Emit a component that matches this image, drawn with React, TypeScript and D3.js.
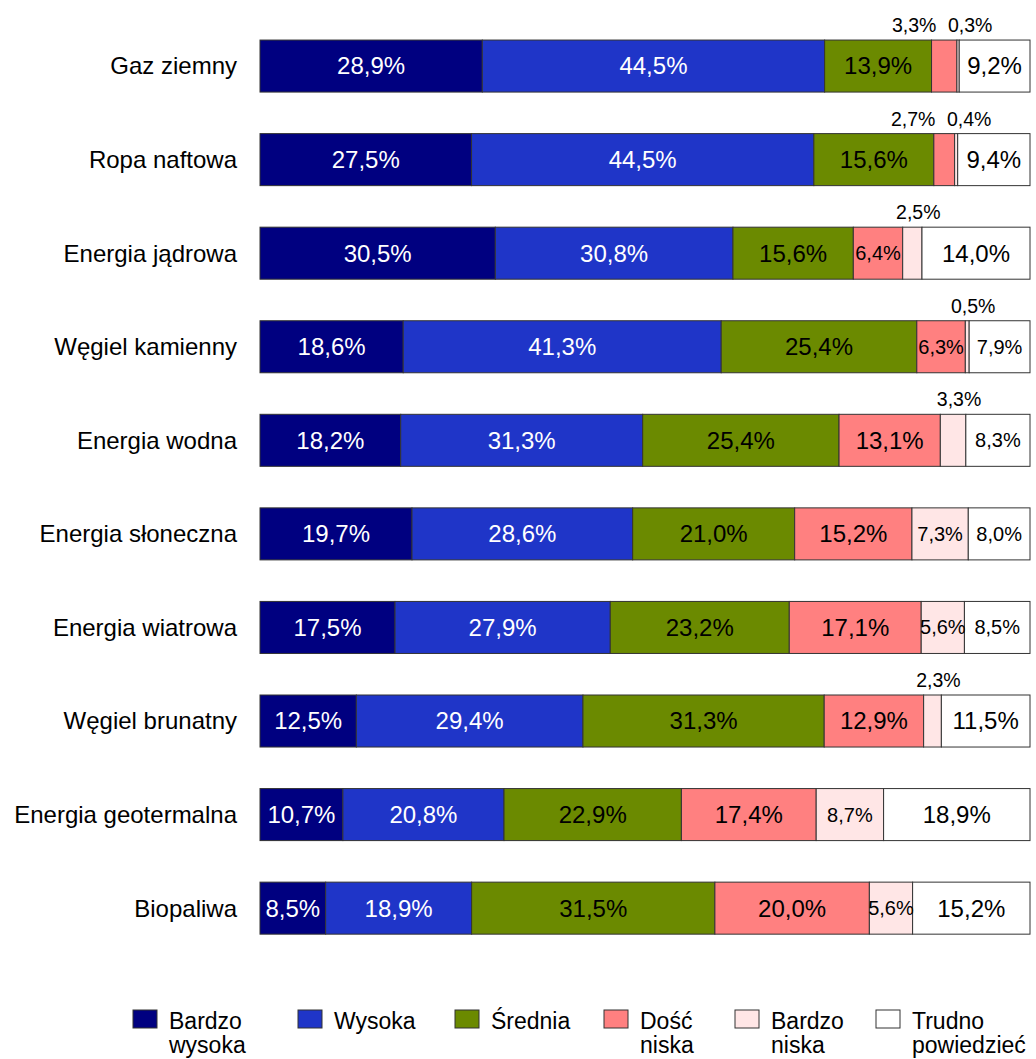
import React from "react";
import * as d3 from "d3";

const categories = [
  "Gaz ziemny",
  "Ropa naftowa",
  "Energia jądrowa",
  "Węgiel kamienny",
  "Energia wodna",
  "Energia słoneczna",
  "Energia wiatrowa",
  "Węgiel brunatny",
  "Energia geotermalna",
  "Biopaliwa",
];

const seriesNames = [
  ["Bardzo", "wysoka"],
  ["Wysoka"],
  ["Średnia"],
  ["Dość", "niska"],
  ["Bardzo", "niska"],
  ["Trudno", "powiedzieć"],
];

const bardzoWysoka = [28.9, 27.5, 30.5, 18.6, 18.2, 19.7, 17.5, 12.5, 10.7, 8.5];
const wysoka = [44.5, 44.5, 30.8, 41.3, 31.3, 28.6, 27.9, 29.4, 20.8, 18.9];
const srednia = [13.9, 15.6, 15.6, 25.4, 25.4, 21.0, 23.2, 31.3, 22.9, 31.5];
const doscNiska = [3.3, 2.7, 6.4, 6.3, 13.1, 15.2, 17.1, 12.9, 17.4, 20.0];
const bardzoNiska = [0.3, 0.4, 2.5, 0.5, 3.3, 7.3, 5.6, 2.3, 8.7, 5.6];
const trudno = [9.2, 9.4, 14.0, 7.9, 8.3, 8.0, 8.5, 11.5, 18.9, 15.2];

const seriesValues = [bardzoWysoka, wysoka, srednia, doscNiska, bardzoNiska, trudno];

const colors = ["#000080", "#1F35C8", "#6B8A00", "#FF8080", "#FFE6E6", "#FFFFFF"];
const textColors = ["#FFFFFF", "#FFFFFF", "#000000", "#000000", "#000000", "#000000"];

const W = 1036;
const H = 1059;
const FONT = "'Liberation Sans', Arial, Helvetica, sans-serif";
const legendX = [133, 298, 455, 604, 735, 876];

const fmt = (v: number) => v.toFixed(1).replace(".", ",") + "%";

export default function App() {
  const keys = seriesValues.map((_, i) => String(i));
  const rows = categories.map((c, r) => {
    const o: any = { cat: c };
    seriesValues.forEach((s, i) => (o[String(i)] = s[r]));
    return o;
  });
  const stacked = d3.stack<any>().keys(keys).offset(d3.stackOffsetExpand)(rows);

  const x = d3.scaleLinear().domain([0, 1]).range([260, 1030]);
  const y = d3
    .scaleBand<string>()
    .domain(categories)
    .range([-1.5, 975.7])
    .padding(0.444);
  const bw = y.bandwidth();

  const segs: any[] = [];
  const inside: any[] = [];
  const outside: any[] = [];
  stacked.forEach((layer, si) => {
    layer.forEach((d, ri) => {
      const cat = categories[ri];
      const v = seriesValues[si][ri];
      const x0 = x(d[0]);
      const x1 = x(d[1]);
      const yTop = y(cat)!;
      segs.push({ key: `${si}-${ri}`, x0, x1, yTop, si });
      const cx = (x0 + x1) / 2;
      if (v < 4) {
        outside.push({ ri, si, cx, yTop, text: fmt(v) });
      } else {
        const small = v < 9 && si > 0;
        inside.push({
          key: `${si}-${ri}`,
          cx,
          cy: yTop + bw / 2,
          text: fmt(v),
          size: small ? 20 : 24,
          color: textColors[si],
        });
      }
    });
  });

  // place labels of tiny segments above the bar, spreading pairs apart
  const outsidePlaced: any[] = [];
  d3.groups(outside, (d: any) => d.ri).forEach(([, group]) => {
    if (group.length === 1) {
      const g = group[0];
      outsidePlaced.push({ ...g, px: g.cx + 6 });
    } else {
      const mid = d3.mean(group, (g: any) => g.cx)! - 9;
      const n = group.length;
      group.forEach((g: any, i: number) => {
        outsidePlaced.push({ ...g, px: mid + (i - (n - 1) / 2) * 56 });
      });
    }
  });

  return (
    <svg
      width={W}
      height={H}
      style={{ position: "absolute", left: 0, top: 0, background: "#fff" }}
      fontFamily={FONT}
    >
      <rect x={0} y={0} width={W} height={H} fill="#fff" />
      {categories.map((c) => (
        <text
          key={c}
          x={237}
          y={y(c)! + bw / 2}
          dy="0.35em"
          textAnchor="end"
          fontSize={24}
          fill="#000"
        >
          {c}
        </text>
      ))}
      {segs.map((s) => (
        <rect
          key={s.key}
          x={s.x0}
          y={s.yTop}
          width={Math.max(0, s.x1 - s.x0)}
          height={bw}
          fill={colors[s.si]}
          stroke="#333"
          strokeWidth={1}
        />
      ))}
      {inside.map((l) => (
        <text
          key={l.key}
          x={l.cx}
          y={l.cy}
          dy="0.35em"
          textAnchor="middle"
          fontSize={l.size}
          fill={l.color}
        >
          {l.text}
        </text>
      ))}
      {outsidePlaced.map((l) => (
        <text
          key={`o-${l.si}-${l.ri}`}
          x={l.px}
          y={l.yTop - 8}
          textAnchor="middle"
          fontSize={19.5}
          fill="#000"
        >
          {l.text}
        </text>
      ))}
      {seriesNames.map((name, i) => (
        <g key={i} transform={`translate(${legendX[i]},0)`}>
          <rect
            x={0}
            y={1010}
            width={24}
            height={18}
            fill={colors[i]}
            stroke="#333"
            strokeWidth={1}
          />
          {name.map((line, li) => (
            <text key={li} x={36} y={1029 + li * 24} fontSize={23} fill="#000">
              {line}
            </text>
          ))}
        </g>
      ))}
    </svg>
  );
}
